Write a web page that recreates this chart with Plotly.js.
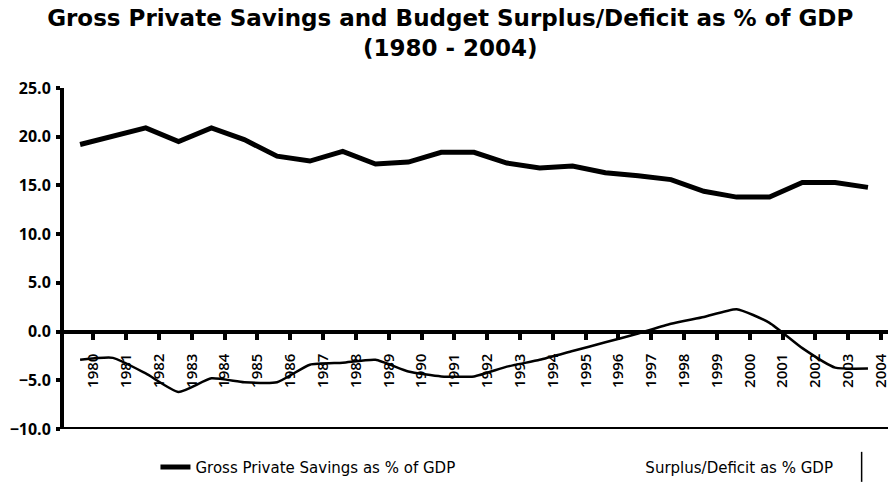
<!DOCTYPE html>
<html>
<head>
<meta charset="utf-8">
<script src="https://cdn.plot.ly/plotly-3.0.1.min.js"></script>
<style>html,body{margin:0;padding:0;background:#fff;}#chart{width:888px;height:494px;}</style>
</head>
<body>
<div id="chart"></div>
<script>
const years = [1980,1981,1982,1983,1984,1985,1986,1987,1988,1989,1990,1991,1992,1993,1994,1995,1996,1997,1998,1999,2000,2001,2002,2003,2004];
const grossSavings = [19.2,20.1,20.9,19.5,20.9,19.7,18.0,17.5,18.5,17.2,17.4,18.4,18.4,17.3,16.8,17.0,16.3,16.0,15.6,14.4,13.8,13.8,15.3,15.3,14.8];
const surplusDeficit = [-2.9,-2.7,-4.3,-6.2,-4.8,-5.2,-5.2,-3.4,-3.2,-2.9,-4.1,-4.6,-4.6,-3.6,-2.9,-2.0,-1.1,-0.2,0.8,1.5,2.3,0.9,-1.7,-3.7,-3.8];
const yTicks = [-10,-5,0,5,10,15,20,25];
const tickLabels = years.map(String);
const labelShift = 0.4;

const fontFam = '"Open Sans", "DejaVu Sans", sans-serif';
const titleFam = '"DejaVu Sans", "Open Sans", sans-serif';
const legFam = '"DejaVu Sans", "Open Sans", sans-serif';

const traces = [
  {x: years, y: grossSavings, type: 'scatter', mode: 'lines', name: 'Gross Private Savings as % of GDP',
   line: {color: '#000', width: 5}, legend: 'legend'},
  {x: years, y: surplusDeficit, type: 'scatter', mode: 'lines', name: 'Surplus/Deficit as % GDP',
   line: {color: '#000', width: 2.5, shape: 'spline', smoothing: 0.5}, showlegend: false},
  {x: [null], y: [null], type: 'scatter', mode: 'lines', name: 'Surplus/Deficit as % GDP',
   line: {color: 'rgba(0,0,0,0)', width: 2}, hoverinfo: 'skip', legend: 'legend2'}
];

const legendBase = {
  orientation: 'h', xanchor: 'left', yanchor: 'middle', y: -0.112,
  font: {family: legFam, size: 15, color: '#000'},
  bgcolor: 'rgba(0,0,0,0)', borderwidth: 0
};

const layout = {
  width: 888, height: 494,
  paper_bgcolor: '#fff', plot_bgcolor: '#fff',
  margin: {l: 64, r: 0, t: 88, b: 65},
  font: {family: fontFam, color: '#000'},
  title: {
    text: 'Gross Private Savings and Budget Surplus/Deficit as % of GDP<br>(1980 - 2004)',
    font: {family: titleFam, size: 23, weight: 700, color: '#000'},
    xref: 'container', x: 0.507, xanchor: 'center',
    yref: 'container', y: 0.948, yanchor: 'top'
  },
  xaxis: {
    range: [1979.51, 2004.61],
    tickvals: years.map(v => v + labelShift),
    ticktext: tickLabels,
    tickangle: -90,
    ticklabeloverflow: 'allow',
    ticklabelstandoff: 8,
    tickfont: {family: fontFam, size: 15, weight: 600, color: '#000'},
    ticks: 'outside', ticklen: 6, tickwidth: 4, tickcolor: '#000',
    showline: true, linewidth: 4, linecolor: '#000',
    showgrid: false, zeroline: false,
    anchor: 'free', position: 10/35
  },
  yaxis: {
    range: [-10, 25],
    tickvals: yTicks,
    tickformat: '.1f',
    ticklabelstandoff: 2,
    tickfont: {family: fontFam, size: 16, weight: 700, color: '#000'},
    ticks: 'outside', ticklen: 4, tickwidth: 4, tickcolor: '#000',
    showline: true, linewidth: 4, linecolor: '#000',
    showgrid: false, zeroline: false
  },
  shapes: [
    {type: 'line', xref: 'paper', yref: 'y', x0: 0, x1: 1, y0: -10, y1: -10, line: {color: '#000', width: 4}},
    {type: 'line', xref: 'paper', yref: 'paper', x0: 0.968, x1: 0.968, y0: -0.067, y1: -0.155, line: {color: '#000', width: 1.5}}
  ],
  showlegend: true,
  legend: Object.assign({}, legendBase, {x: 0.111}),
  legend2: Object.assign({}, legendBase, {x: 0.657})
};

Plotly.newPlot('chart', traces, layout, {displayModeBar: false, staticPlot: true});
</script>
</body>
</html>
